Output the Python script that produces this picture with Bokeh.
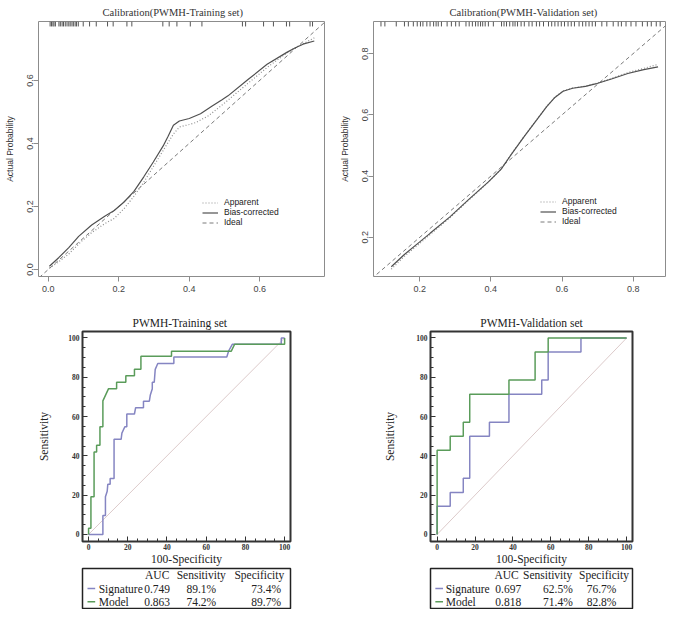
from bokeh.plotting import figure
from bokeh.models import (Range1d, FixedTicker, PrintfTickFormatter, Legend, LegendItem,
                          SingleIntervalTicker)
from bokeh.layouts import row, column
from bokeh.core.properties import value
from bokeh.embed import file_html
from bokeh.resources import INLINE

# ---------------- data ----------------
# Calibration - training set
bc_train_x = [0.003, 0.030, 0.058, 0.086, 0.123, 0.160, 0.187, 0.215, 0.243, 0.271, 0.298, 0.326, 0.340,
              0.355, 0.372, 0.400, 0.432, 0.464, 0.492, 0.510, 0.566, 0.621, 0.677, 0.700, 0.723, 0.755]
bc_train_y = [0.010, 0.038, 0.069, 0.105, 0.141, 0.169, 0.187, 0.214, 0.248, 0.294, 0.341, 0.392, 0.423,
              0.458, 0.471, 0.479, 0.494, 0.518, 0.538, 0.551, 0.602, 0.651, 0.689, 0.703, 0.715, 0.725]
ap_train_x = [0.003, 0.030, 0.058, 0.090, 0.123, 0.160, 0.187, 0.215, 0.240, 0.270, 0.300, 0.330, 0.355,
              0.372, 0.400, 0.418, 0.455, 0.500, 0.566, 0.621, 0.677, 0.700, 0.755]
ap_train_y = [0.004, 0.025, 0.049, 0.085, 0.117, 0.145, 0.162, 0.193, 0.228, 0.275, 0.330, 0.385, 0.430,
              0.452, 0.460, 0.466, 0.488, 0.528, 0.590, 0.641, 0.687, 0.703, 0.735]
rug_train = [0.005, 0.009, 0.013, 0.016, 0.020, 0.030, 0.034, 0.039, 0.043, 0.048, 0.053, 0.058, 0.062,
             0.067, 0.071, 0.076, 0.080, 0.085, 0.099, 0.117, 0.136, 0.168, 0.184, 0.223, 0.237, 0.325,
             0.343, 0.365, 0.403, 0.436, 0.551, 0.560, 0.611, 0.639, 0.676, 0.685, 0.743, 0.750]

# Calibration - validation set
cal_val_x = [0.120, 0.156, 0.200, 0.229, 0.284, 0.338, 0.393, 0.429, 0.457, 0.493, 0.530, 0.557, 0.580,
             0.603, 0.630, 0.666, 0.694, 0.739, 0.785, 0.830, 0.870]
bc_val_y = [0.104, 0.143, 0.185, 0.213, 0.266, 0.324, 0.381, 0.423, 0.470, 0.528, 0.585, 0.627, 0.657,
            0.677, 0.687, 0.693, 0.701, 0.717, 0.735, 0.748, 0.757]
ap_val_y = [0.096, 0.137, 0.180, 0.209, 0.263, 0.322, 0.380, 0.423, 0.471, 0.529, 0.586, 0.628, 0.658,
            0.678, 0.688, 0.694, 0.702, 0.719, 0.738, 0.752, 0.765]
rug_val = [0.091, 0.102, 0.134, 0.157, 0.168, 0.182, 0.193, 0.202, 0.209, 0.220, 0.229, 0.239, 0.246,
           0.252, 0.261, 0.277, 0.289, 0.301, 0.311, 0.330, 0.339, 0.348, 0.357, 0.364, 0.371, 0.377,
           0.384, 0.393, 0.407, 0.430, 0.437, 0.444, 0.453, 0.462, 0.468, 0.475, 0.485, 0.494, 0.507,
           0.516, 0.528, 0.537, 0.548, 0.562, 0.571, 0.580, 0.589, 0.598, 0.607, 0.617, 0.626, 0.635,
           0.648, 0.658, 0.667, 0.676, 0.685, 0.694, 0.712, 0.726, 0.744, 0.758, 0.767, 0.780, 0.794,
           0.808, 0.826, 0.840, 0.851, 0.865, 0.876]
ideal_xy = [-0.1, 1.0]

# ROC - training set
sig_train_x = [0, 7.3, 7.3, 8.6, 8.6, 9.5, 9.8, 11, 11, 13, 13, 16.6, 17, 18.5, 19.5, 19.5, 23.4, 24, 28,
               28, 31, 31.5, 32.5, 32.5, 33.5, 34, 35.3, 43.5, 43.5, 70.5, 71.5, 73.3, 98.3, 98.3, 100]
sig_train_y = [0, 0, 9.6, 9.6, 19.2, 22, 25.5, 25.5, 28.5, 28.5, 48.4, 48.4, 51.6, 54.8, 54.8, 61.3, 61.3,
               64.5, 64.5, 67.8, 67.8, 71, 74.2, 77.5, 77.5, 84, 87, 87, 90.3, 90.3, 93.5, 96.8, 96.8,
               100, 100]
mod_train_x = [0, 0, 1.2, 1.2, 2.8, 2.8, 4.1, 4.1, 5.8, 5.8, 7.3, 7.3, 10.2, 14.3, 14.3, 19, 19, 23.4,
               23.4, 26.7, 26.7, 42.3, 42.3, 72.8, 74.5, 100, 100]
mod_train_y = [0, 3.2, 3.2, 19.2, 19.2, 42, 42, 45.4, 45.4, 54.8, 54.8, 68, 74.2, 74.2, 77.5, 77.5, 80.8,
               80.8, 84.1, 84.1, 90.7, 90.7, 93.3, 93.3, 96.8, 96.8, 100]

# ROC - validation set
sig_val_x = [0, 0, 6.9, 6.9, 13.8, 13.8, 17.2, 17.2, 27.6, 27.6, 37.9, 37.9, 55.2, 55.2, 58.6, 58.6,
             75.9, 75.9, 100]
sig_val_y = [0, 14.3, 14.3, 21.4, 21.4, 28.6, 28.6, 50, 50, 57.1, 57.1, 71.4, 71.4, 78.6, 78.6, 92.9,
             92.9, 100, 100]
mod_val_x = [0, 0, 6.9, 6.9, 13.8, 13.8, 17.2, 17.2, 37.9, 37.9, 51.7, 51.7, 58.6, 58.6, 100]
mod_val_y = [0, 42.9, 42.9, 50, 50, 57.1, 57.1, 71.4, 71.4, 78.6, 78.6, 92.9, 92.9, 100, 100]
diag_xy = [0, 100]

# Tables
row_names = ["Signature", "Model"]
header = ["AUC", "Sensitivity", "Specificity"]
auc_train = [0.749, 0.863]
sens_train = [89.1, 74.2]
spec_train = [73.4, 89.7]
auc_val = [0.697, 0.818]
sens_val = [62.5, 71.4]
spec_val = [76.7, 82.8]

SIG_C = "#8585c2"
MOD_C = "#5a9c5a"
SERIF = "Liberation Serif"
SANS = "Liberation Sans"


def cal_fig(title, w, h, bl, br, bt, bb, xr, yr, ticks, talign, toff):
    p = figure(width=w, height=h, x_range=Range1d(*xr), y_range=Range1d(*yr),
               output_backend="svg", toolbar_location=None, title=title,
               min_border_left=bl, min_border_right=br, min_border_top=bt, min_border_bottom=bb)
    p.title.text_font = SERIF
    p.title.text_font_size = "10.5px"
    p.title.text_font_style = "normal"
    p.title.text_color = "#333333"
    p.title.align = talign
    p.title.standoff = 8
    p.title.offset = toff
    p.grid.visible = False
    p.outline_line_color = "#8c8c8c"
    p.outline_line_width = 1
    for ax in (p.xaxis[0], p.yaxis[0]):
        ax.ticker = FixedTicker(ticks=ticks)
        ax.formatter = PrintfTickFormatter(format="%.1f")
        ax.axis_line_color = None
        ax.major_tick_out = 5
        ax.major_tick_in = 0
        ax.minor_tick_line_color = None
        ax.major_tick_line_color = "#8c8c8c"
        ax.major_label_text_font = SANS
        ax.major_label_text_font_size = "9px"
        ax.major_label_text_color = "#444444"
    p.xaxis.major_label_standoff = 4
    p.yaxis.major_label_standoff = 0
    p.yaxis.major_label_orientation = "vertical"
    p.yaxis.axis_label = "Actual Probability"
    p.yaxis.axis_label_text_font = SANS
    p.yaxis.axis_label_text_font_size = "8.5px"
    p.yaxis.axis_label_text_font_style = "normal"
    p.yaxis.axis_label_text_color = "#333333"
    p.yaxis.axis_label_standoff = 10
    return p


def add_cal(p, ax_, ay_, bx_, by_, rug, frame_h, legend_loc):
    yr0, yr1 = p.y_range.start, p.y_range.end
    d = (yr1 - yr0) * 5.0 / frame_h
    p.segment(x0=rug, y0=[yr1] * len(rug), x1=rug, y1=[yr1 - d] * len(rug),
              line_color="#555555", line_width=1)
    r_id = p.line(ideal_xy, ideal_xy, line_color="#7a7a7a", line_width=1, line_dash="4 3")
    r_ap = p.line(ax_, ay_, line_color="#8f8f8f", line_width=1.2, line_dash="1 2")
    r_bc = p.line(bx_, by_, line_color="#505050", line_width=1.2)
    leg = Legend(items=[LegendItem(label="Apparent", renderers=[r_ap]),
                        LegendItem(label="Bias-corrected", renderers=[r_bc]),
                        LegendItem(label="Ideal", renderers=[r_id])],
                 location=legend_loc, border_line_color=None, background_fill_alpha=0,
                 label_text_font=SANS, label_text_font_size="8.5px", label_text_color="#222222",
                 glyph_width=16, glyph_height=9, label_height=9, spacing=0, padding=0, margin=0,
                 label_standoff=6)
    p.add_layout(leg)


def roc_fig(title, w, h, bl, br, bt, bb, xr, yr, ylab_standoff, talign, toff):
    p = figure(width=w, height=h, x_range=Range1d(*xr), y_range=Range1d(*yr),
               output_backend="svg", toolbar_location=None, title=title,
               min_border_left=bl, min_border_right=br, min_border_top=bt, min_border_bottom=bb)
    p.title.text_font = SERIF
    p.title.text_font_size = "11.5px"
    p.title.text_font_style = "normal"
    p.title.text_color = "#222222"
    p.title.align = talign
    p.title.standoff = 5
    p.title.offset = toff
    p.grid.visible = False
    p.outline_line_color = "#333333"
    p.outline_line_width = 2
    for ax in (p.xaxis[0], p.yaxis[0]):
        ax.ticker = SingleIntervalTicker(interval=20, num_minor_ticks=4)
        ax.axis_line_color = None
        ax.major_tick_in = 5
        ax.major_tick_out = 0
        ax.minor_tick_in = 3
        ax.minor_tick_out = 0
        ax.major_tick_line_color = "#333333"
        ax.minor_tick_line_color = "#333333"
        ax.major_label_text_font = SERIF
        ax.major_label_text_font_size = "7.5px"
        ax.major_label_text_font_style = "bold"
        ax.major_label_text_color = "#333333"
        ax.axis_label_text_font = SERIF
        ax.axis_label_text_font_size = "11.5px"
        ax.axis_label_text_font_style = "normal"
        ax.axis_label_text_color = "#222222"
    p.xaxis.major_label_standoff = 2
    p.yaxis.major_label_standoff = 3
    p.xaxis.axis_label = "100-Specificity"
    p.xaxis.axis_label_standoff = 0
    p.yaxis.axis_label = "Sensitivity"
    p.yaxis.axis_label_standoff = ylab_standoff
    return p


def add_roc(p, sx, sy, mx, my):
    p.line(diag_xy, diag_xy, line_color="#dccaca", line_width=1)
    p.line(sx, sy, line_color=SIG_C, line_width=1.5)
    p.line(mx, my, line_color=MOD_C, line_width=1.5)


def table_fig(w, h, bl, br, cols, auc, sens, spec):
    t = figure(width=w, height=h, x_range=Range1d(0, 1), y_range=Range1d(0, 3),
               output_backend="svg", toolbar_location=None,
               min_border_left=bl, min_border_right=br, min_border_top=1, min_border_bottom=1)
    t.axis.visible = False
    t.grid.visible = False
    t.outline_line_color = "#222222"
    t.outline_line_width = 1.5
    rows_y = [1.5, 0.5]
    hdr_y = 2.5
    fs = value("11.5px")
    ft = value(SERIF)
    t.text(x=cols["hdr"], y=[hdr_y] * 3, text=header, text_font=ft, text_font_size=fs,
           text_align="center", text_baseline="middle", text_color="#222222")
    t.segment(x0=[cols["line"][0]] * 2, x1=[cols["line"][1]] * 2, y0=rows_y, y1=rows_y,
              line_color=[SIG_C, MOD_C], line_width=1.5)
    t.text(x=[cols["name"]] * 2, y=rows_y, text=row_names, text_font=ft, text_font_size=fs,
           text_align="left", text_baseline="middle", text_color="#222222")
    t.text(x=[cols["auc"]] * 2, y=rows_y, text=[f"{v:.3f}" for v in auc], text_font=ft,
           text_font_size=fs, text_align="center", text_baseline="middle", text_color="#222222")
    t.text(x=[cols["sens"]] * 2, y=rows_y, text=[f"{v:.1f}%" for v in sens], text_font=ft,
           text_font_size=fs, text_align="center", text_baseline="middle", text_color="#222222")
    t.text(x=[cols["spec"]] * 2, y=rows_y, text=[f"{v:.1f}%" for v in spec], text_font=ft,
           text_font_size=fs, text_align="center", text_baseline="middle", text_color="#222222")
    return t


# ---------------- calibration plots ----------------
c1 = cal_fig("Calibration(PWMH-Training set)", 336, 295, 38, 12, 19, 19,
             (-0.028, 0.784), (-0.0225, 0.787), [0.0, 0.2, 0.4, 0.6], "left", 64)
add_cal(c1, ap_train_x, ap_train_y, bc_train_x, bc_train_y, rug_train, 257, (164, 49))

c2 = cal_fig("Calibration(PWMH-Validation set)", 333, 295, 36, 4, 18, 19,
             (0.07, 0.891), (0.072, 0.905), [0.2, 0.4, 0.6, 0.8], "left", 76)
add_cal(c2, cal_val_x, ap_val_y, cal_val_x, bc_val_y, rug_val, 258, (167, 50))

# ---------------- ROC plots ----------------
r1 = roc_fig("PWMH-Training set", 336, 272, 81, 46, 36, 26, (-3.1, 103), (-3.6, 103.3), 15, "left", 50)
add_roc(r1, sig_train_x, sig_train_y, mod_train_x, mod_train_y)
r2 = roc_fig("PWMH-Validation set", 333, 272, 86, 37, 36, 26, (-3.5, 103.1), (-3.6, 103.3), 17,
             "center", 0)
add_roc(r2, sig_val_x, sig_val_y, mod_val_x, mod_val_y)

cols_train = {"hdr": [0.359, 0.571, 0.850], "line": [0.024, 0.061], "name": 0.078,
              "auc": 0.359, "sens": 0.571, "spec": 0.883}
cols_val = {"hdr": [0.377, 0.580, 0.859], "line": [0.024, 0.062], "name": 0.075,
            "auc": 0.385, "sens": 0.631, "spec": 0.847}
t1 = table_fig(336, 42, 82, 46, cols_train, auc_train, sens_train, spec_train)
t2 = table_fig(333, 42, 94, 35, cols_val, auc_val, sens_val, spec_val)

layout = column(row(c1, c2), row(column(r1, t1), column(r2, t2)))

with open("out.html", "w") as f:
    f.write(file_html(layout, INLINE))
